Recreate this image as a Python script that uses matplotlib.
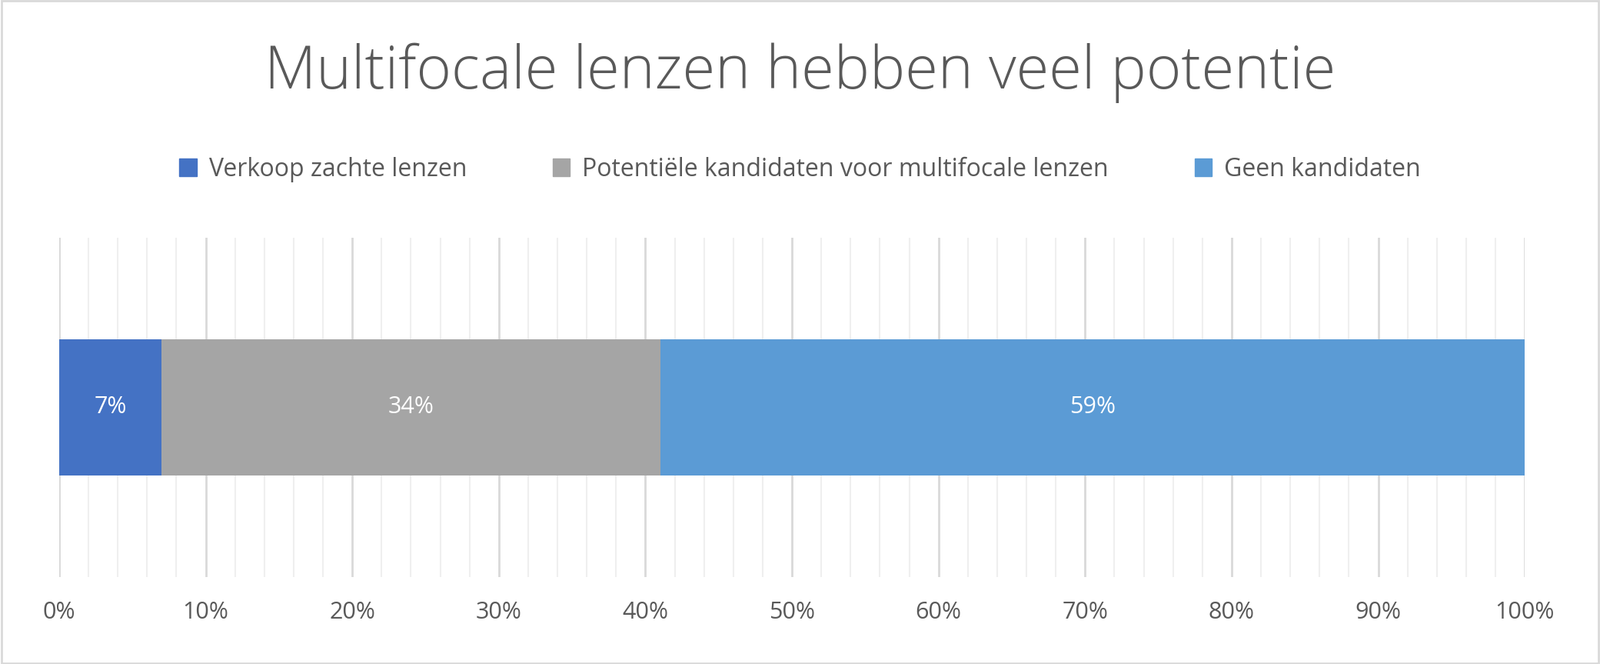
import matplotlib
matplotlib.use("Agg")
import matplotlib.pyplot as plt
from matplotlib.patches import Patch

series = ["Verkoop zachte lenzen", "Potentiële kandidaten voor multifocale lenzen", "Geen kandidaten"]
values = [7, 34, 59]
colors = ["#4472C4", "#A5A5A5", "#5B9BD5"]
ticks = list(range(0, 101, 10))
tick_labels = [f"{t}%" for t in ticks]

plt.rcParams["font.family"] = "Open Sans"
fig = plt.figure(figsize=(20.81, 8.63), dpi=100)
ax = fig.add_axes([0.037, 0.131, 0.916, 0.511])
left = 0
for s, v, c in zip(series, values, colors):
    ax.barh(0, v, left=left, height=0.4, color=c, zorder=3)
    ax.text(left + v / 2, 0, f"{v}%", ha="center", va="center", color="white", fontsize=22, zorder=4)
    left += v
ax.set_xlim(0, 100)
ax.set_ylim(-0.5, 0.5)
for x in range(0, 101, 2):
    major = x % 10 == 0
    ax.axvline(x, color="#D9D9D9" if major else "#EFEFEF", lw=2.0 if major else 1.5, zorder=1)
ax.set_xticks(ticks)
ax.set_xticklabels(tick_labels, fontsize=22, color="#595959")
ax.set_yticks([])
ax.tick_params(axis="x", length=0, pad=22)
for sp in ax.spines.values():
    sp.set_visible(False)
fig.text(0.5, 0.89, "Multifocale lenzen hebben veel potentie", ha="center", va="center",
         fontsize=56, color="#595959", fontweight="light")
handles = [Patch(color=c) for c in colors]
fig.legend(handles, series, loc="center", bbox_to_anchor=(0.5, 0.745), ncol=3, frameon=False,
           fontsize=23, labelcolor="#595959", handlelength=0.7, handleheight=0.7, columnspacing=3.5, handletextpad=0.5)
fig.patches.append(plt.Rectangle((0.001, 0.001), 0.998, 0.998, transform=fig.transFigure,
                                 fill=False, edgecolor="#D9D9D9", lw=2))
fig.savefig("out.png", dpi=100)
